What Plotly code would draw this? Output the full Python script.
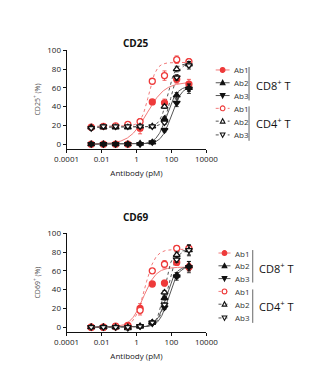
import numpy as np
import plotly.graph_objects as go

# ---------------- data ----------------
conc = [0.00256, 0.0128, 0.064, 0.32, 1.6, 8, 40, 200, 1000]  # pM

series_names = ["Ab1", "Ab2", "Ab3", "Ab1", "Ab2", "Ab3"]
group_labels = ["CD8<sup>+</sup> T", "CD4<sup>+</sup> T"]

# CD25
cd25_cd8_ab1 = [0, 0, 0, 0, 17, 45, 44, 69, 64]
cd25_cd8_ab2 = [0, 0, 0, 0, 0.5, 2, 27, 52, 60]
cd25_cd8_ab3 = [0, 0, 0, 0, 0, 2, 15, 44, 59]
cd25_cd4_ab1 = [18, 19, 19.5, 21, 24, 67, 73, 90, 88]
cd25_cd4_ab2 = [18, 18, 18, 18, 19, 19, 40, 80, 85]
cd25_cd4_ab3 = [17, 19, 19, 19, 19, 19, 23, 71, 84]
cd25_err = [
    [1, 1, 1, 1, 6, 1, 4, 4, 5],
    [1, 1, 1, 1, 1, 1, 2, 3, 4],
    [1, 1, 1, 1, 1, 1, 2, 4, 5],
    [1, 1, 1, 1, 3, 1, 5, 4, 3],
    [1, 1, 1, 1, 1, 1, 2, 3, 3],
    [2, 2, 1, 1, 1, 1, 2, 3, 4],
]
# fitted 4PL parameters: bottom, top, EC50 (pM), Hill slope
cd25_bottom = [0, 0, 0, 19, 18, 18]
cd25_top = [66, 62, 62, 87, 86, 86]
cd25_ec50 = [4, 55, 100, 5, 60, 100]
cd25_hill = [0.85, 1.5, 1.5, 2.0, 2.0, 2.0]

# CD69
cd69_cd8_ab1 = [0, 0, 0.5, 2, 20, 46, 47, 69, 64]
cd69_cd8_ab2 = [0, 0, 0, -1, 1, 5, 31, 55, 65]
cd69_cd8_ab3 = [0, 0, 0, -1, 1, 4, 21, 54, 64]
cd69_cd4_ab1 = [0, 0, 1, 1, 18, 60, 67, 84, 84]
cd69_cd4_ab2 = [0, 0, 0, 0, 1, 5, 37, 77, 82]
cd69_cd4_ab3 = [0, 0, 0, 0, 1, 5, 24, 72, 82]
cd69_err = [
    [1, 1, 1, 1, 5, 1, 3, 3, 4],
    [1, 1, 1, 1, 1, 1, 2, 3, 5],
    [1, 1, 1, 1, 1, 1, 2, 4, 6],
    [1, 1, 1, 1, 5, 1, 4, 3, 3],
    [1, 1, 1, 1, 1, 1, 2, 3, 5],
    [1, 1, 1, 1, 1, 1, 2, 3, 6],
]
cd69_bottom = [0, 0, 0, 0, 0, 0]
cd69_top = [64, 65, 65, 83, 82, 82]
cd69_ec50 = [2.5, 50, 70, 3, 40, 60]
cd69_hill = [1.2, 1.6, 1.6, 1.5, 2.0, 1.8]

panel_titles = ["CD25", "CD69"]
y_titles = ["CD25<sup>+</sup> (%)", "CD69<sup>+</sup> (%)"]
x_title = "Antibody (pM)"
x_tickvals = [0.0001, 0.01, 1, 100, 10000]
x_ticktext = ["0.0001", "0.01", "1", "100", "10000"]
y_tickvals = [0, 20, 40, 60, 80, 100]

# ---------------- styles ----------------
RED = "#ee3a3a"
RED_LINE = "#f27a7a"
BLK = "#111111"
GRY_LINE = "#555555"
styles = [
    dict(symbol="circle", fill=RED, edge=RED, curve=RED_LINE, dash="solid"),
    dict(symbol="triangle-up", fill=BLK, edge=BLK, curve=GRY_LINE, dash="solid"),
    dict(symbol="triangle-down", fill=BLK, edge=BLK, curve=GRY_LINE, dash="solid"),
    dict(symbol="circle", fill="white", edge=RED, curve=RED_LINE, dash="dot"),
    dict(symbol="triangle-up", fill="white", edge=BLK, curve=GRY_LINE, dash="dot"),
    dict(symbol="triangle-down", fill="white", edge=BLK, curve=GRY_LINE, dash="dot"),
]

fig = go.Figure()
W, H = 324, 378
FONT = "Open Sans, Liberation Sans, Arial, sans-serif"


def px(x):
    return x / W


def py(y):
    return 1 - y / H


panels = [
    dict(vals=[cd25_cd8_ab1, cd25_cd8_ab2, cd25_cd8_ab3, cd25_cd4_ab1, cd25_cd4_ab2, cd25_cd4_ab3],
         err=cd25_err, bottom=cd25_bottom, top=cd25_top, ec50=cd25_ec50, hill=cd25_hill,
         xa="x", ya="y"),
    dict(vals=[cd69_cd8_ab1, cd69_cd8_ab2, cd69_cd8_ab3, cd69_cd4_ab1, cd69_cd4_ab2, cd69_cd4_ab3],
         err=cd69_err, bottom=cd69_bottom, top=cd69_top, ec50=cd69_ec50, hill=cd69_hill,
         xa="x2", ya="y2"),
]

xfit = np.logspace(np.log10(min(conc)), np.log10(max(conc)), 200)
for p in panels:
    for i in range(6):
        st = styles[i]
        yfit = p["bottom"][i] + (p["top"][i] - p["bottom"][i]) / (1 + (p["ec50"][i] / xfit) ** p["hill"][i])
        fig.add_trace(go.Scatter(x=xfit, y=yfit, mode="lines", xaxis=p["xa"], yaxis=p["ya"],
                                 line=dict(color=st["curve"], width=1, dash=st["dash"]),
                                 showlegend=False, hoverinfo="skip"))
    for i in range(6):
        st = styles[i]
        fig.add_trace(go.Scatter(x=conc, y=p["vals"][i], mode="markers", xaxis=p["xa"], yaxis=p["ya"],
                                 error_y=dict(type="data", array=p["err"][i], color=st["edge"],
                                              thickness=0.8, width=2),
                                 marker=dict(symbol=st["symbol"], size=6, color=st["fill"],
                                             line=dict(color=st["edge"], width=1.3)),
                                 showlegend=False))

# ---------------- custom legends (paper coordinates, pixel helpers) ----------------
legend_rows = [[65, 78, 91, 104, 117, 131], [251, 264, 277, 290, 303, 317]]
legend_x = [(220, 235, 238), (223, 236, 239)]
R = 2.5
for li, rows in enumerate(legend_rows):
    x0, x1, xt = legend_x[li]
    cx = (x0 + x1) / 2
    for i, yr in enumerate(rows):
        st = styles[i]
        fig.add_shape(type="line", xref="paper", yref="paper", x0=px(x0), x1=px(x1), y0=py(yr), y1=py(yr),
                      line=dict(color=st["curve"], width=1, dash=st["dash"]))
        mk = dict(xref="paper", yref="paper", fillcolor=st["fill"], line=dict(color=st["edge"], width=1.1))
        if st["symbol"] == "circle":
            fig.add_shape(type="circle", x0=px(cx - R), x1=px(cx + R), y0=py(yr + R), y1=py(yr - R), **mk)
        elif st["symbol"] == "triangle-up":
            path = f"M {px(cx - R)},{py(yr + R * 0.8)} L {px(cx + R)},{py(yr + R * 0.8)} L {px(cx)},{py(yr - R)} Z"
            fig.add_shape(type="path", path=path, **mk)
        else:
            path = f"M {px(cx - R)},{py(yr - R * 0.8)} L {px(cx + R)},{py(yr - R * 0.8)} L {px(cx)},{py(yr + R)} Z"
            fig.add_shape(type="path", path=path, **mk)
        fig.add_annotation(x=px(xt), y=py(yr), xref="paper", yref="paper", text=series_names[i],
                           showarrow=False, xanchor="left", yanchor="middle",
                           font=dict(size=8, color="#333", family=FONT))

group_bars = [[(256, 62, 96, 80), (256, 102, 137, 119)],
              [(260, 248, 281, 266), (260, 288, 322, 305)]]
for bars in group_bars:
    for gi, (bx, y0, y1, ly) in enumerate(bars):
        fig.add_shape(type="line", xref="paper", yref="paper", x0=px(bx), x1=px(bx), y0=py(y0), y1=py(y1),
                      line=dict(color="#666", width=1))
        fig.add_annotation(x=px(bx + 5), y=py(ly), xref="paper", yref="paper", text=group_labels[gi],
                           showarrow=False, xanchor="left", yanchor="middle",
                           font=dict(size=11, color="#111", family=FONT))

for txt, yy in zip(panel_titles, [28, 214]):
    fig.add_annotation(x=px(133), y=py(yy), xref="paper", yref="paper", text="<b>" + txt + "</b>",
                       showarrow=False, font=dict(size=10, color="#111", family=FONT))

# ---------------- axes ----------------
axis_common = dict(showline=True, linecolor="#111", linewidth=1, ticks="outside", ticklen=3,
                   tickcolor="#111", tickwidth=1, showgrid=False, zeroline=False,
                   tickfont=dict(size=8, color="#222", family=FONT))
xdoms = [0.182, 0.648]
ydoms = [[0.616, 0.881], [0.124, 0.389]]
fig.update_layout(
    xaxis=dict(type="log", range=[-4, 4], tickvals=x_tickvals, ticktext=x_ticktext, domain=xdoms,
               anchor="y", title=dict(text=x_title, font=dict(size=8, color="#222", family=FONT), standoff=6),
               **axis_common),
    yaxis=dict(range=[-5, 100], tickvals=y_tickvals, domain=ydoms[0], anchor="x",
               title=dict(text=y_titles[0], font=dict(size=7, color="#555", family=FONT), standoff=5),
               **axis_common),
    xaxis2=dict(type="log", range=[-4, 4], tickvals=x_tickvals, ticktext=x_ticktext, domain=xdoms,
                anchor="y2", title=dict(text=x_title, font=dict(size=8, color="#222", family=FONT), standoff=6),
                **axis_common),
    yaxis2=dict(range=[-5, 100], tickvals=y_tickvals, domain=ydoms[1], anchor="x2",
                title=dict(text=y_titles[1], font=dict(size=7, color="#555", family=FONT), standoff=5),
                **axis_common),
    width=W, height=H, margin=dict(l=0, r=0, t=0, b=0),
    paper_bgcolor="white", plot_bgcolor="white",
    font=dict(family=FONT),
)

fig.write_html("out.html")
